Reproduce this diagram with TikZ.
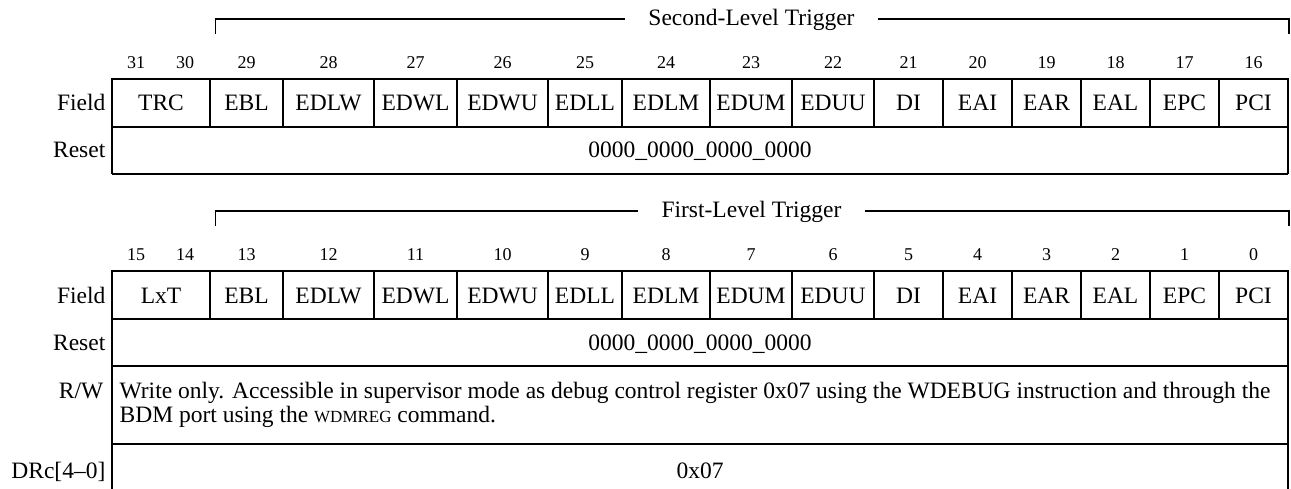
\documentclass[tikz,border=0pt]{standalone}
\usepackage{fontspec}
\setmainfont{Liberation Serif}
\begin{document}
\begin{tikzpicture}[x=1pt,y=-1pt,line width=1.3pt,
  txt/.style={font=\fontsize{23.5}{23.5}\selectfont,inner sep=0pt,anchor=base},
  rowname/.style={txt,anchor=base east},
  bitnum/.style={font=\fontsize{18}{18}\selectfont,inner sep=0pt,anchor=base},
  trig/.style={txt,inner xsep=23pt,inner ysep=0pt}]
\useasboundingbox (0,0) rectangle (1291,489);

\foreach \p/\dy/\ttl/\fst/\hb/\lb in {S/0/Second-Level Trigger/TRC/31/30, F/192/First-Level Trigger/LxT/15/14} {
  \begin{scope}[yshift=-\dy pt]
    % bracket with title
    \coordinate (\p-bl) at (215.5,34);
    \coordinate (\p-tl) at (215.5,19);
    \coordinate (\p-tr) at (1289,19);
    \coordinate (\p-br) at (1289,34);
    \node[trig] (\p-title) at (751.5,26) {\ttl};
    \draw (\p-bl) -- (\p-tl) -- (\p-tl -| \p-title.west);
    \draw (\p-tr -| \p-title.east) -- (\p-tr) -- (\p-br);
    % bit numbers of the first field
    \node[bitnum] (\p-bhi) at (136,69) {\hb};
    \node[bitnum] (\p-blo) at (185,69) {\lb};
    % row labels
    \node[rowname] (\p-fieldlbl) at (106,111) {Field};
    \node[rowname] (\p-resetlbl) at (106,158) {Reset};
    % field row and reset row
    \draw (112,79) rectangle (1288,127);
    \draw (112,127) -- (112,174);
    \draw (1288,127) -- (1288,174);
    \node[txt] (\p-f0) at (161,111) {\fst};
    \foreach \l/\r/\n [count=\i] in {210/283/EBL, 283/374/EDLW, 374/457/EDWL, 457/548/EDWU, 548/622/EDLL, 622/710/EDLM, 710/792/EDUM, 792/874/EDUU, 874/943/DI, 943/1012/EAI, 1012/1081/EAR, 1081/1150/EAL, 1150/1219/EPC, 1219/1288/PCI} {
      \pgfmathtruncatemacro{\bit}{\hb-1-\i}
      \draw (\l,79) -- (\l,127);
      \node[txt] (\p-f\i) at ({(\l+\r)/2},111) {\n};
      \node[bitnum] (\p-b\i) at ({(\l+\r)/2},69) {\bit};
    }
    \node[txt] (\p-reset) at (700,158) {0000\_0000\_0000\_0000};
  \end{scope}
}

% closing line of the first reset row
\draw (112,174) -- (1288,174);

% lower rows of the second table
\draw (112,366) -- (112,489);
\draw (1288,366) -- (1288,489);
\draw (112,366) -- (1288,366);
\draw (112,444) -- (1288,444);

\node[rowname] (rwlbl) at (104,398) {R/W};
\node[txt,anchor=base west] (rwtext1) at (119,398) {Write only. Accessible in supervisor mode as debug control register 0x07 using the WDEBUG instruction and through the};
\node[txt,anchor=base west] (rwtext2) at (119,422) {BDM port using the {\fontsize{17}{17}\selectfont WDMREG} command.};

\node[rowname] (drclbl) at (106,478) {DRc[4–0]};
\node[txt] (drcval) at (700,478) {0x07};
\end{tikzpicture}
\end{document}
